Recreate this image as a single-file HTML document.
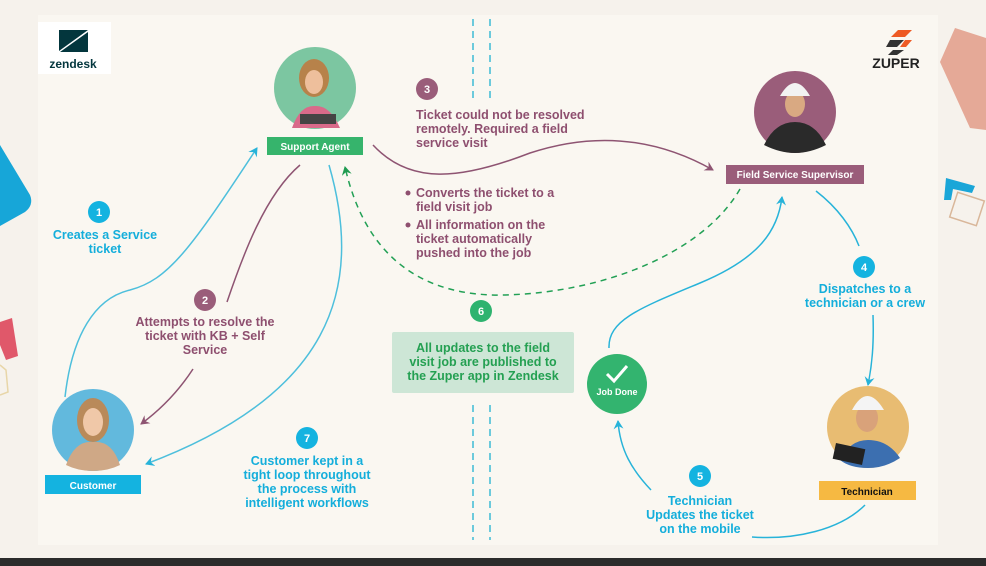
<!DOCTYPE html>
<html><head><meta charset="utf-8"><style>
html,body{margin:0;padding:0;background:#f6f2ec;}
svg{display:block;}
text{font-family:"Liberation Sans",sans-serif;font-weight:bold;}
</style></head><body>
<svg width="986" height="566" viewBox="0 0 986 566" xmlns="http://www.w3.org/2000/svg">
<defs>
<marker id="ab" markerWidth="10" markerHeight="10" refX="8" refY="5" orient="auto" markerUnits="userSpaceOnUse"><path d="M0,0 L9,5 L0,10 L3,5 Z" fill="#27b3d9"/></marker>
<marker id="ap" markerWidth="10" markerHeight="10" refX="8" refY="5" orient="auto" markerUnits="userSpaceOnUse"><path d="M0,0 L9,5 L0,10 L3,5 Z" fill="#8e5472"/></marker>
<marker id="ag" markerWidth="10" markerHeight="10" refX="8" refY="5" orient="auto" markerUnits="userSpaceOnUse"><path d="M0,0 L9,5 L0,10 L3,5 Z" fill="#1f9a50"/></marker>
</defs>
<rect width="986" height="566" fill="#f6f2ec"/>
<rect x="38" y="15" width="900" height="530" fill="#faf7f1"/>
<rect x="0" y="558" width="986" height="8" fill="#2b2b2b"/>
<!-- decor -->
<path d="M0,145 L30,195 Q34,205 25,212 L0,226 Z" fill="#17a6d8"/>
<path d="M0,322 L12,318 L18,356 L6,360 L0,345 Z" fill="#e0586a"/>
<path d="M0,365 L6,370 L8,392 L0,395" fill="none" stroke="#e8d6a8" stroke-width="1.5"/>
<path d="M955,28 L986,38 L986,130 L970,128 L940,62 Z" fill="#e5a997"/>
<path d="M944,200 L946,178 L975,186 L972,193 L953,189 L951,200 Z" fill="#1aa6d8"/>
<rect x="953" y="196" width="28" height="26" fill="none" stroke="#d9b79a" stroke-width="1.5" transform="rotate(18 967 209)"/>
<!-- dashed verticals -->
<g stroke="#6ccadc" stroke-width="2" stroke-dasharray="7,5">
<line x1="473" y1="19" x2="473" y2="100"/><line x1="490" y1="19" x2="490" y2="100"/>
<line x1="473" y1="405" x2="473" y2="540"/><line x1="490" y1="405" x2="490" y2="540"/>
</g>
<!-- logos -->
<rect x="38" y="22" width="73" height="52" fill="#fff"/>
<path d="M59,30 L88,30 L59,51 Z" fill="#03363d"/>
<path d="M59,30 Q59,40 68,40 Q77,40 77,30 Z" fill="#faf7f1" opacity="0"/>
<path d="M88,32 L88,52 L60,52 Z" fill="#03363d"/>
<path d="M69,30 Q69,38 76,38" fill="none"/>
<text x="73" y="68" font-size="12" fill="#03363d" text-anchor="middle" font-weight="normal">zendesk</text>
<path d="M898,30 L912,30 L905,37 L891,37 Z" fill="#ee5a24"/><path d="M890,40 L904,40 L897,47 L886,47 Z" fill="#333"/><path d="M905,40 L912,40 L906,47 L900,47 Z" fill="#ee5a24"/><path d="M893,50 L904,50 L897,55 L888,55 Z" fill="#333"/>
<text x="896" y="68" font-size="14" fill="#222" text-anchor="middle">ZUPER</text>
<!-- connectors -->
<g fill="none" stroke-width="1.5">
<path d="M65,397 C72,335 95,298 130,290 C168,280 190,250 257,148" stroke="#4dbfdc" marker-end="url(#ab)"/>
<path d="M300,165 C265,195 243,255 227,302" stroke="#8e5472"/>
<path d="M193,369 C178,392 160,410 141,424" stroke="#8e5472" marker-end="url(#ap)"/>
<path d="M329,165 C365,290 330,395 146,464" stroke="#4dbfdc" marker-end="url(#ab)"/>
<path d="M373,145 C410,185 460,180 530,153 C600,130 660,140 713,170" stroke="#8e5472" marker-end="url(#ap)"/>
<path d="M740,189 C705,250 610,292 505,295 C420,297 365,255 345,167" stroke="#22a055" stroke-dasharray="6,5" marker-end="url(#ag)"/>
<path d="M609,348 C608,320 640,308 700,283 C760,258 778,230 782,197" stroke="#27b3d9" marker-end="url(#ab)"/>
<path d="M816,191 C838,208 852,228 859,246" stroke="#27b3d9"/>
<path d="M873,315 C874,345 872,365 868,385" stroke="#27b3d9" marker-end="url(#ab)"/>
<path d="M865,505 C840,530 795,540 752,537" stroke="#27b3d9"/>
<path d="M651,490 C632,470 620,450 618,421" stroke="#27b3d9" marker-end="url(#ab)"/>
</g>
<!-- people -->
<circle cx="315" cy="88" r="41" fill="#7cc6a1"/>
<path d="M292,128 Q300,105 315,106 Q330,105 340,128 Z" fill="#d96a8a"/><ellipse cx="314" cy="78" rx="15" ry="19" fill="#b7824a"/><ellipse cx="314" cy="82" rx="9" ry="12" fill="#eebf9c"/>
<rect x="300" y="114" width="36" height="10" fill="#444"/>
<rect x="267" y="137" width="96" height="18" fill="#36b46c"/>
<text x="315" y="150" font-size="10" fill="#fff" text-anchor="middle">Support Agent</text>

<circle cx="93" cy="430" r="41" fill="#62b9dd"/>
<path d="M66,465 Q75,440 93,442 Q112,440 120,465 Q108,471 93,471 Q78,471 66,465 Z" fill="#cfa886"/><ellipse cx="93" cy="420" rx="16" ry="22" fill="#b98a5a"/><ellipse cx="93" cy="422" rx="10" ry="14" fill="#f0c8a8"/>
<rect x="45" y="475" width="96" height="19" fill="#14b3e0"/>
<text x="93" y="489" font-size="10" fill="#fff" text-anchor="middle">Customer</text>

<circle cx="795" cy="112" r="41" fill="#9a5d7a"/>
<path d="M764,145 Q775,122 795,122 Q815,122 826,145 Q810,153 795,153 Q780,153 764,145 Z" fill="#2a2a2a"/><ellipse cx="795" cy="104" rx="10" ry="13" fill="#d9a982"/><path d="M780,96 Q795,70 810,96 Z" fill="#f2f2f2"/>
<rect x="726" y="165" width="138" height="19" fill="#9a5d7a"/>
<text x="795" y="178" font-size="10" fill="#fff" text-anchor="middle">Field Service Supervisor</text>

<circle cx="868" cy="427" r="41" fill="#e8bc72"/>
<path d="M840,460 Q850,440 868,440 Q888,440 900,458 Q885,468 868,468 Q850,468 840,460 Z" fill="#3c6fb0"/><ellipse cx="867" cy="418" rx="11" ry="14" fill="#d9a27a"/><path d="M852,410 Q867,382 884,410 Z" fill="#f4f4f4"/><rect x="834" y="446" width="30" height="16" fill="#222" transform="rotate(12 849 454)"/>
<rect x="819" y="481" width="97" height="19" fill="#f6b942"/>
<text x="867" y="495" font-size="10" fill="#111" text-anchor="middle">Technician</text>

<circle cx="617" cy="384" r="30" fill="#33b46f"/>
<path d="M607,374 L614,381 L627,366" fill="none" stroke="#fff" stroke-width="3"/>
<text x="617" y="395" font-size="9" fill="#fff" text-anchor="middle">Job Done</text>

<rect x="392" y="332" width="182" height="61" rx="2" fill="#cde6d6"/>
<g font-size="12.5" fill="#24a052" text-anchor="middle"><text x="483" y="352">All updates to the field</text><text x="483" y="366">visit job are published to</text><text x="483" y="380">the Zuper app in Zendesk</text></g>

<!-- number circles -->
<g font-size="11" fill="#fff" text-anchor="middle">
<circle cx="99" cy="212" r="11" fill="#14b3e0"/><text x="99" y="216">1</text>
<circle cx="205" cy="300" r="11" fill="#9a5d7a"/><text x="205" y="304">2</text>
<circle cx="427" cy="89" r="11" fill="#9a5d7a"/><text x="427" y="93">3</text>
<circle cx="864" cy="267" r="11" fill="#14b3e0"/><text x="864" y="271">4</text>
<circle cx="700" cy="476" r="11" fill="#14b3e0"/><text x="700" y="480">5</text>
<circle cx="481" cy="311" r="11" fill="#2eb36f"/><text x="481" y="315">6</text>
<circle cx="307" cy="438" r="11" fill="#14b3e0"/><text x="307" y="442">7</text>
</g>
<!-- labels -->
<g font-size="12.5" fill="#14aedb" text-anchor="middle">
<text x="105" y="239">Creates a Service</text><text x="105" y="253">ticket</text>
<text x="865" y="293">Dispatches to a</text><text x="865" y="307">technician or a crew</text>
<text x="700" y="505">Technician</text><text x="700" y="519">Updates the ticket</text><text x="700" y="533">on the mobile</text>
<text x="307" y="465">Customer kept in a</text><text x="307" y="479">tight loop throughout</text><text x="307" y="493">the process with</text><text x="307" y="507">intelligent workflows</text>
</g>
<g font-size="12.5" fill="#8e4f6f">
<g text-anchor="middle"><text x="205" y="326">Attempts to resolve the</text><text x="205" y="340">ticket with KB + Self</text><text x="205" y="354">Service</text></g>
<text x="416" y="119">Ticket could not be resolved</text><text x="416" y="133">remotely. Required a field</text><text x="416" y="147">service visit</text>
<circle cx="408" cy="193" r="2.5" fill="#8e4f6f"/><text x="416" y="197">Converts the ticket to a</text><text x="416" y="211">field visit job</text>
<circle cx="408" cy="225" r="2.5" fill="#8e4f6f"/><text x="416" y="229">All information on the</text><text x="416" y="243">ticket automatically</text><text x="416" y="257">pushed into the job</text>
</g>
</svg>
</body></html>
